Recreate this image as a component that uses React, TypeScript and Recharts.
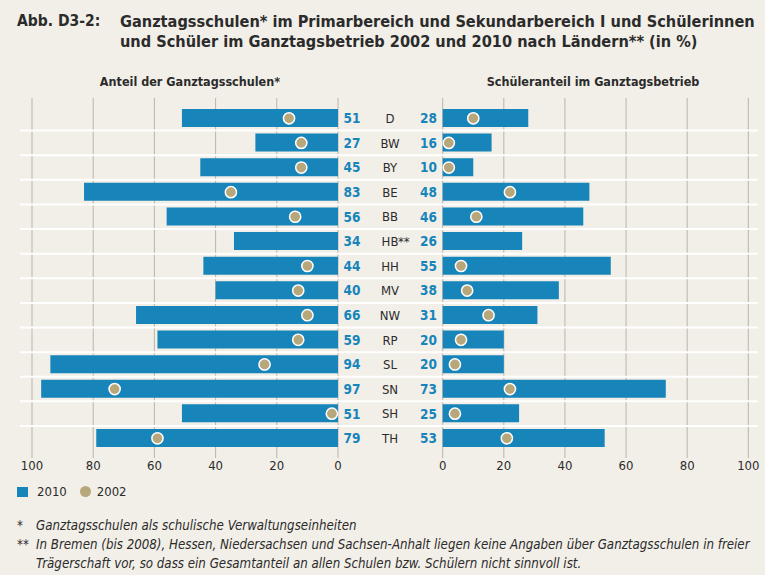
import React from 'react';
import { ComposedChart, Bar, Line, XAxis, YAxis, CartesianGrid } from 'recharts';

// Länderkürzel und Werte (in %)
const laender = ['D', 'BW', 'BY', 'BE', 'BB', 'HB**', 'HH', 'MV', 'NW', 'RP', 'SL', 'SN', 'SH', 'TH'];
const schulen2010 = [51, 27, 45, 83, 56, 34, 44, 40, 66, 59, 94, 97, 51, 79];
const schulen2002 = [16, 12, 12, 35, 14, null, 10, 13, 10, 13, 24, 73, 2, 59];
const schueler2010 = [28, 16, 10, 48, 46, 26, 55, 38, 31, 20, 20, 73, 25, 53];
const schueler2002 = [10, 2, 2, 22, 11, null, 6, 8, 15, 6, 4, 22, 4, 21];
const xTicks = [0, 20, 40, 60, 80, 100];

const FONT = "'DejaVu Sans Condensed', 'Liberation Sans Narrow', 'DejaVu Sans', sans-serif";
const BLUE = '#1785ba';
const GOLD = '#b8a77b';
const TEXT = '#2b2b2b';
const BG = '#f2efe8';
const PAD_TOP = 8;
const PAD_BOTTOM = 7.4;
// pixel padding of the two value axes inside the shared plot area
const PAD_L = { left: 12, right: 420 };
const PAD_R = { left: 422.7, right: 9.7 };

const data = laender.map((land, i) => ({
  land,
  schulen2010: schulen2010[i],
  schulen2002: schulen2002[i],
  schueler2010: schueler2010[i],
  schueler2002: schueler2002[i],
}));

// white separators between rows (band boundaries of the category axis)
function rowSeparators({ offset }: any): number[] {
  const top = offset.top + PAD_TOP;
  const bottom = offset.top + offset.height - PAD_BOTTOM;
  const step = (bottom - top) / laender.length;
  const out: number[] = [];
  for (let i = 1; i < laender.length; i++) out.push(top + i * step);
  return out;
}

// vertical grid at the ticks of both value axes
function tickLines({ offset }: any): number[] {
  const l0 = offset.left + PAD_L.left;
  const l1 = offset.left + offset.width - PAD_L.right;
  const r0 = offset.left + PAD_R.left;
  const r1 = offset.left + offset.width - PAD_R.right;
  const left = xTicks.map((t) => l1 - (t / 100) * (l1 - l0));
  const right = xTicks.map((t) => r0 + (t / 100) * (r1 - r0));
  return [...left, ...right];
}

const renderDot = (props: any) => {
  const { cx, cy, value, index } = props;
  if (value == null || cx == null || cy == null || isNaN(cx)) return <g key={`dot-${index}`} />;
  return <circle key={`dot-${index}`} cx={cx} cy={cy} r={5.6} fill={GOLD} stroke="#fff" strokeWidth={1.5} />;
};

// centre column: Schulanteil | Land | Schüleranteil
const CenterTick = ({ y, payload }: any) => {
  const i = payload.index;
  const label: string = laender[i];
  const main = label.replace(/\*+$/, '');
  const stars = label.slice(main.length);
  return (
    <g>
      <text x={352} y={y} dy="0.36em" textAnchor="middle" fontFamily={FONT} fontSize={13.5} fontWeight={700} fill={BLUE}>
        {schulen2010[i]}
      </text>
      <text x={390} y={y} dy="0.36em" textAnchor="middle" fontFamily={FONT} fontSize={13} fill={TEXT}>
        {main}
      </text>
      {stars && (
        <text x={398} y={y} dy="0.36em" textAnchor="start" fontFamily={FONT} fontSize={13} fill={TEXT}>
          {stars}
        </text>
      )}
      <text x={437} y={y} dy="0.36em" textAnchor="end" fontFamily={FONT} fontSize={13.5} fontWeight={700} fill={BLUE}>
        {schueler2010[i]}
      </text>
    </g>
  );
};

const tickStyle = { fontFamily: FONT, fontSize: 13, fill: TEXT };

export default function App() {
  return (
    <div
      style={{
        position: 'absolute',
        left: 0,
        top: 0,
        width: 765,
        height: 575,
        background: BG,
        fontFamily: FONT,
        color: TEXT,
        overflow: 'hidden',
      }}
    >
      <div style={{ position: 'absolute', left: 17, top: 12, fontSize: 15.5, fontWeight: 700, lineHeight: '19.5px' }}>
        Abb. D3-2:
      </div>
      <div style={{ position: 'absolute', left: 120, top: 12, fontSize: 16.2, fontWeight: 700, lineHeight: '19.5px', whiteSpace: 'nowrap' }}>
        Ganztagsschulen* im Primarbereich und Sekundarbereich I und Schülerinnen
        <br />
        und Schüler im Ganztagsbetrieb 2002 und 2010 nach Ländern** (in %)
      </div>

      <div style={{ position: 'absolute', left: 37, width: 306, top: 74, textAlign: 'center', fontSize: 12.5, fontWeight: 700 }}>
        Anteil der Ganztagsschulen*
      </div>
      <div style={{ position: 'absolute', left: 440, width: 306, top: 74, textAlign: 'center', fontSize: 12.5, fontWeight: 700 }}>
        Schüleranteil im Ganztagsbetrieb
      </div>

      <div style={{ position: 'absolute', left: 0, top: 0 }}>
        <ComposedChart
          layout="vertical"
          width={765}
          height={480}
          data={data}
          margin={{ top: 98, right: 7, bottom: 1, left: 19 }}
        >
          <CartesianGrid
            xAxisId="L"
            yAxisId="L"
            horizontal={false}
            stroke="#bab5ab"
            verticalCoordinatesGenerator={tickLines}
          />
          <CartesianGrid
            xAxisId="L"
            yAxisId="L"
            vertical={false}
            stroke="#ffffff"
            strokeWidth={2}
            horizontalCoordinatesGenerator={rowSeparators}
          />
          <XAxis
            xAxisId="L"
            type="number"
            domain={[0, 100]}
            ticks={xTicks}
            interval={0}
            reversed
            padding={PAD_L}
            height={1}
            axisLine={false}
            tickLine={false}
            tickSize={0}
            tickMargin={3}
            tick={tickStyle}
          />
          <XAxis
            xAxisId="R"
            type="number"
            domain={[0, 100]}
            ticks={xTicks}
            interval={0}
            padding={PAD_R}
            height={20}
            axisLine={false}
            tickLine={false}
            tickSize={0}
            tickMargin={2}
            tick={tickStyle}
          />
          <YAxis yAxisId="L" type="category" dataKey="land" hide padding={{ top: PAD_TOP, bottom: PAD_BOTTOM }} />
          <YAxis
            yAxisId="R"
            type="category"
            dataKey="land"
            width={1}
            padding={{ top: PAD_TOP, bottom: PAD_BOTTOM }}
            axisLine={false}
            tickLine={false}
            interval={0}
            tick={<CenterTick />}
          />
          <Bar xAxisId="L" yAxisId="L" dataKey="schulen2010" fill={BLUE} barSize={18} isAnimationActive={false} />
          <Bar xAxisId="R" yAxisId="R" dataKey="schueler2010" fill={BLUE} barSize={18} isAnimationActive={false} />
          <Line
            xAxisId="L"
            yAxisId="L"
            dataKey="schulen2002"
            stroke="none"
            dot={renderDot}
            activeDot={false}
            isAnimationActive={false}
          />
          <Line
            xAxisId="R"
            yAxisId="R"
            dataKey="schueler2002"
            stroke="none"
            dot={renderDot}
            activeDot={false}
            isAnimationActive={false}
          />
        </ComposedChart>
      </div>

      {/* legend */}
      <div style={{ position: 'absolute', left: 17, top: 484, display: 'flex', alignItems: 'center', fontSize: 13 }}>
        <span style={{ display: 'inline-block', width: 11, height: 10, background: BLUE, marginRight: 9 }} />
        <span style={{ marginRight: 13 }}>2010</span>
        <span style={{ display: 'inline-block', width: 11, height: 11, borderRadius: 6, background: GOLD, marginRight: 6 }} />
        <span>2002</span>
      </div>

      {/* footnotes */}
      <div style={{ position: 'absolute', left: 17, top: 516, fontSize: 13.2, fontStyle: 'italic', lineHeight: '19px' }}>
        <div>
          <span style={{ display: 'inline-block', width: 19 }}>*</span>Ganztagsschulen als schulische Verwaltungseinheiten
        </div>
        <div style={{ whiteSpace: 'nowrap' }}>
          <span style={{ display: 'inline-block', width: 19 }}>**</span>In Bremen (bis 2008), Hessen, Niedersachsen und Sachsen-Anhalt liegen keine Angaben über Ganztagsschulen in freier
        </div>
        <div style={{ paddingLeft: 19 }}>
          Trägerschaft vor, so dass ein Gesamtanteil an allen Schulen bzw. Schülern nicht sinnvoll ist.
        </div>
      </div>
    </div>
  );
}
